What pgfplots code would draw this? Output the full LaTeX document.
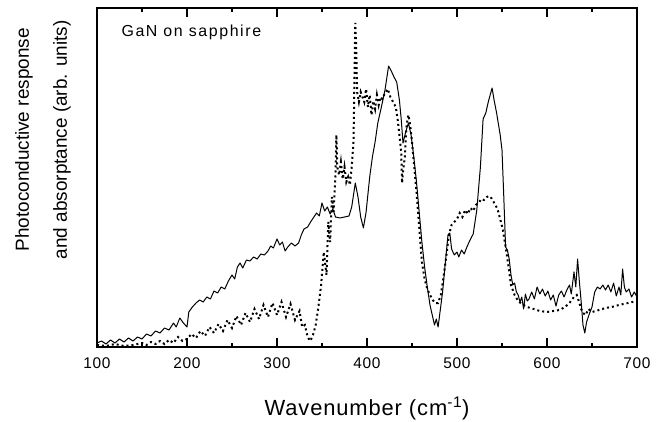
\documentclass[border=0pt]{standalone}
\usepackage{fontspec}
\setmainfont{Liberation Sans}
\usepackage{pgfplots}
\pgfplotsset{compat=1.18}

% photoconductive response (solid)
\pgfplotstableread{
w y
100 4
105 6
110 3
115 7
120 4
125 8
130 5
135 9
140 6
145 10
150 8
155 13
160 11
165 16
170 14
175 19
180 17
185 24
188 20
192 29
196 24
200 20
202 35
206 40
210 44
214 47
218 45
222 50
226 48
230 56
234 54
238 60
242 58
246 66
250 72
253 68
256 80
259 84
262 79
266 87
270 86
274 90
278 88
282 93
286 92
290 96
293 101
296 99
300 108
303 102
306 105
309 96
312 100
316 104
320 101
324 104
327 112
330 118
334 120
338 126
341 130
344 134
347 131
350 144
353 136
356 140
359 133
362 138
365 130
370 129
375 130
380 131
383 140
387 164
390 150
393 130
396 119
399 135
403 170
406 190
409 205
412 224
416 240
420 257
424 281
427 276
430 270
433 265
436 247
438 228
440 204
443 215
446 224
449 212
452 190
455 165
458 135
461 105
464 80
467 60
470 42
473 30
475 22
477 28
479 20
481 34
484 55
487 84
490 112
492 114
494 98
497 92
500 95
502 90
505 97
508 93
511 100
514 106
518 113
522 137
526 180
529 228
532 234
535 246
539 259
541 248
544 234
548 212
550 197
552 150
554 100
556 97
558 88
560 72
562 62
564 64
566 55
568 52
570 45
572 50
574 38
576 53
578 46
580 48
583 55
586 48
589 60
592 53
595 58
598 51
601 56
604 47
607 52
610 41
613 52
616 56
619 50
622 57
625 62
627 53
630 75
632 60
634 88
636 65
638 45
640 22
642 14
644 25
647 33
650 40
653 55
656 60
659 58
662 62
665 57
668 62
671 55
674 64
677 51
680 60
682 52
684 78
686 60
688 55
691 58
694 50
697 55
700 50
}\pcresp

% absorptance (dotted)
\pgfplotstableread{
w y
100 2
110 1
120 3
130 1
140 2
150 4
155 2
160 5
165 3
170 6
175 3
180 7
185 4
190 10
195 6
200 8
205 13
210 9
215 16
220 11
225 20
230 14
235 23
240 16
245 27
250 19
255 31
260 22
265 34
270 25
275 38
280 28
285 42
290 30
295 44
300 32
305 45
310 30
315 43
320 27
325 36
328 20
331 22
334 10
337 6
340 12
343 22
346 40
349 62
352 95
355 72
357 125
359 105
361 150
363 135
365 175
366 212
367 180
369 172
371 185
373 168
375 180
377 165
379 170
381 162
383 180
385 205
387 324
388 300
389 255
391 245
393 255
395 250
397 245
399 258
401 240
403 252
405 232
407 246
409 238
411 252
413 242
415 250
417 248
419 252
421 255
423 258
426 250
429 245
432 240
434 228
436 212
438 195
439 164
440 175
442 190
444 222
446 232
448 222
450 205
452 185
455 155
458 120
461 85
464 68
467 58
470 52
473 47
476 44
479 44
482 52
485 70
488 90
491 112
494 122
497 125
500 128
503 134
506 130
509 137
512 133
515 139
518 136
521 142
524 144
527 148
530 147
533 150
536 151
539 148
542 143
545 138
548 128
551 117
554 100
557 82
560 62
564 52
568 46
572 43
578 40
585 38
592 36
600 35
607 36
614 37
620 40
625 44
630 50
633 52
636 44
638 38
640 34
643 32
646 38
650 35
658 37
665 39
672 40
680 42
690 44
700 46
}\absorb

\begin{document}
\begin{tikzpicture}
\useasboundingbox (-97bp,-75bp) rectangle (566bp,347bp);
\begin{axis}[
    scale only axis,
    width=540bp, height=339bp,
    xmin=100, xmax=700,
    ymin=0, ymax=339,
    xtick={100,200,...,700},
    minor xtick={150,250,...,650},
    ytick=\empty,
    tick align=inside,
    xtick pos=both,
    major tick length=9bp,
    minor tick length=4.5bp,
    every tick/.style={black, line width=1.6bp},
    axis line style={line width=1.8bp},
    /pgf/number format/assume math mode=true,
    xticklabel style={font=\fontsize{15.5}{15.5}\selectfont\addfontfeature{LetterSpace=4},
        anchor=base, yshift=-21bp},
    xlabel={Wavenumber (cm\textsuperscript{-1})},
    xlabel style={at={(axis description cs:0.5,-0.2006)}, anchor=base,
        font=\fontsize{22}{24}\selectfont\addfontfeature{LetterSpace=4}},
    ylabel={Photoconductive response\\and absorptance (arb. units)},
    ylabel style={at={(axis description cs:-0.1,0.611)}, anchor=center,
        align=center, font=\fontsize{19}{38}\selectfont},
]
\addplot[black, line width=1bp, line join=round] table[x=w, y=y] {\pcresp};
\addplot[black, line width=2bp, dash pattern=on 2bp off 3bp] table[x=w, y=y] {\absorb};
\node[anchor=base west, font=\fontsize{16}{16}\selectfont\addfontfeature{LetterSpace=10}]
    at (axis description cs:0.0389,0.9145) {GaN on sapphire};
\end{axis}
\end{tikzpicture}
\end{document}
